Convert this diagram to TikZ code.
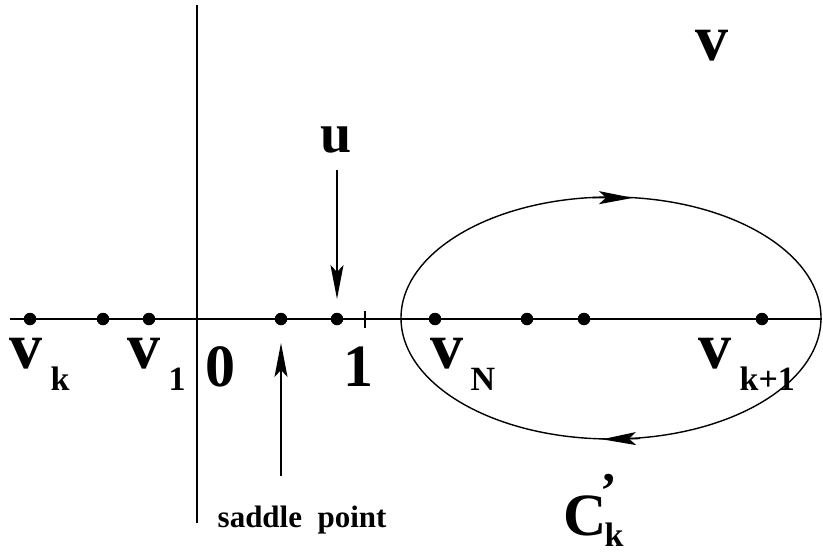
\documentclass[tikz,border=0pt]{standalone}
\usepackage{fontspec}
\setmainfont{Liberation Serif}
\usetikzlibrary{arrows.meta}
\newcommand{\sbs}[1]{\raisebox{-22pt}{\fontsize{34}{34}\selectfont\bfseries #1}}
\begin{document}
\begin{tikzpicture}[x=1pt,y=-1pt,line width=1.4pt,
  dot/.style={circle,fill,inner sep=0pt,minimum size=12.5pt},
  arr/.style={-{Stealth[length=34pt,width=13pt,inset=7pt]}},
  big/.style={font=\fontsize{66}{66}\selectfont\bfseries,inner sep=0pt,anchor=base west},
  num/.style={font=\fontsize{60}{60}\selectfont\bfseries,inner sep=0pt,anchor=base west},
  small/.style={font=\fontsize{34}{34}\selectfont\bfseries,inner sep=0pt,anchor=base west},
  note/.style={font=\fontsize{31}{31}\selectfont\bfseries,inner sep=0pt,anchor=base west}]
\useasboundingbox (0,0) rectangle (823,552);
% axes
\coordinate (xl) at (10,319);
\coordinate (xr) at (822,319);
\coordinate (yt) at (197,5);
\coordinate (yb) at (197,523);
\draw (xl) -- (xr);
\draw (yt) -- (yb);
% tick at 1
\coordinate (t1) at (365,311);
\coordinate (t2) at (365,328);
\draw (t1) -- (t2);
% ellipse
\draw (611,318) ellipse [x radius=210, y radius=121];
\coordinate (ea1) at (592,197.6);
\coordinate (ea2) at (633,197.9);
\coordinate (eb1) at (640,438.5);
\coordinate (eb2) at (602,439.3);
\draw[arr] (ea1) -- (ea2);
\draw[arr] (eb1) -- (eb2);
% dots
\foreach \n/\x in {d1/30,d2/103,d3/149,d4/281,d5/337,d6/435,d7/527,d8/584,d9/762}
  \node[dot] (\n) at (\x,319) {};
% arrows to u and saddle point
\coordinate (ut) at (337,170);
\coordinate (uh) at (337,299);
\draw[arr] (ut) -- (uh);
\coordinate (st) at (281,476);
\coordinate (sh) at (281,343);
\draw[arr] (st) -- (sh);
% labels
\node[big] (V) at (695,60) {v};
\node[font=\fontsize{56}{56}\selectfont\bfseries,inner sep=0pt,anchor=base west] (u) at (320,152) {u};
\node[big] (vk) at (9,368) {v\hspace{8pt}\sbs{k}};
\node[big] (v1) at (127,368) {v\hspace{8pt}\sbs{1}};
\node[num] (zero) at (205,386) {0};
\node[num] (one) at (343,386) {1};
\node[big] (vN) at (430,368) {v\hspace{7pt}\sbs{N}};
\node[big] (vk1) at (698,368) {v\hspace{8pt}\sbs{k+1}};
\node[num] (C) at (563,535) {C};
\node[font=\fontsize{50}{50}\selectfont\bfseries,inner sep=0pt,anchor=base west] (pr) at (600,507) {’};
\node[small] (ck) at (604,546) {k};
\node[note] (sp) at (217,527) {saddle\ \ point};
\end{tikzpicture}
\end{document}
